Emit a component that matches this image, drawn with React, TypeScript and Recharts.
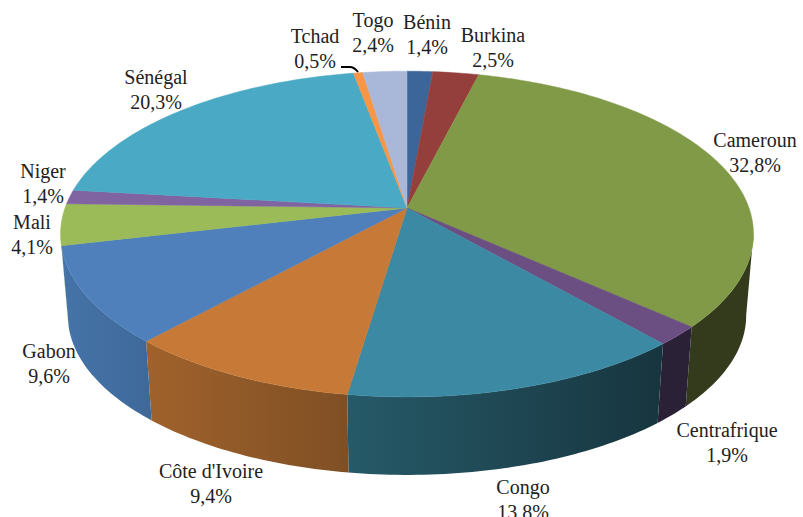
import { PieChart, Pie } from 'recharts'

const names = ['Bénin', 'Burkina', 'Cameroun', 'Centrafrique', 'Congo', "Côte d'Ivoire", 'Gabon', 'Mali', 'Niger', 'Sénégal', 'Tchad', 'Togo']
const values = [1.4, 2.5, 32.8, 1.9, 13.8, 9.4, 9.6, 4.1, 1.4, 20.3, 0.5, 2.4]
const faceColors = ['#3C6699', '#953F3D', '#809A47', '#6B4E82', '#3C89A3', '#C77A37', '#4F80BC', '#9BBB59', '#8064A2', '#4AAAC5', '#F79646', '#A9B8D8']
const wallFrom = ['#3C6699', '#953F3D', '#343B1D', '#2B2136', '#265A68', '#A0622C', '#4674A8', '#9BBB59', '#8064A2', '#4AAAC5', '#F79646', '#A9B8D8']
const wallTo = ['#3C6699', '#953F3D', '#343B1D', '#2B2136', '#17353F', '#7F4F24', '#3E689A', '#9BBB59', '#8064A2', '#4AAAC5', '#F79646', '#A9B8D8']

// where each label sits: centre x, first baseline y
const labelSpots = [[427, 29], [493, 42], [755, 147], [727, 437], [523, 494], [211, 478], [49, 358], [32, 229], [43, 178], [156, 84], [315, 43], [373, 27]]

const chartData = names.map((name, i) => ({ name, value: values[i], fill: faceColors[i], wallFrom: wallFrom[i], wallTo: wallTo[i] }))

// fake 3D: the disc is seen from above with a bit of perspective
const TILT = 0.464
const PERSPECTIVE = 0.16
const BOTTOM_SCALE = 0.979
const DEPTH = 82
const WALL_START = 99
const WALL_END = 258

// theta is clockwise from 12 o'clock
function project(cx: number, cy: number, r: number, theta: number, bottom = false) {
  const rad = (theta * Math.PI) / 180
  const u = Math.sin(rad)
  const v = -Math.cos(rad)
  const w = 1 - PERSPECTIVE * v
  const k = bottom ? BOTTOM_SCALE : 1
  return [cx + (k * r * u) / w, cy + (bottom ? DEPTH : 0) + (k * r * TILT * v) / w]
}

function arcPoints(cx: number, cy: number, r: number, from: number, to: number, bottom = false) {
  const steps = Math.max(2, Math.ceil(Math.abs(to - from)))
  const pts = []
  for (let i = 0; i <= steps; i++) {
    pts.push(project(cx, cy, r, from + ((to - from) * i) / steps, bottom))
  }
  return pts
}

const toPath = (pts: number[][]) => pts.map((p, i) => `${i ? 'L' : 'M'}${p[0].toFixed(2)},${p[1].toFixed(2)}`).join(' ') + ' Z'

function Slice(props: any) {
  const { cx, cy, outerRadius, startAngle, endAngle, fill, name } = props
  const from = 90 - startAngle
  const to = 90 - endAngle
  const a = Math.max(from, WALL_START)
  const b = Math.min(to, WALL_END)
  const id = 'wall-' + names.indexOf(name)
  return (
    <g>
      {b > a && (
        <>
          <defs>
            <linearGradient id={id} x1="0" x2="1" y1="0" y2="0">
              <stop offset="0%" stopColor={props.wallFrom} />
              <stop offset="100%" stopColor={props.wallTo} />
            </linearGradient>
          </defs>
          <path
            d={toPath([...arcPoints(cx, cy, outerRadius, a, b), ...arcPoints(cx, cy, outerRadius, b, a, true)])}
            fill={`url(#${id})`}
          />
        </>
      )}
      <path
        d={toPath([[cx, cy], ...arcPoints(cx, cy, outerRadius, from, to)])}
        fill={fill}
        stroke={fill}
        strokeWidth={0.5}
      />
    </g>
  )
}

function renderLabel(props: any) {
  const spot = labelSpots[props.index]
  const text = props.value.toFixed(1).replace('.', ',') + '%'
  return (
    <text x={spot[0]} y={spot[1]} textAnchor="middle" fontFamily="'Liberation Serif', serif" fontSize={20} fill="#222">
      <tspan x={spot[0]}>{props.name}</tspan>
      <tspan x={spot[0]} dy={24.5}>{text}</tspan>
    </text>
  )
}

function renderLine(props: any) {
  if (names[props.index] !== 'Tchad') return <g />
  return <path d="M341,67 L350,67 Q354,67 358,72" fill="none" stroke="#000" strokeWidth={2} />
}

export default function App() {
  return (
    <div style={{ position: 'absolute', left: 0, top: 0, width: 803, height: 517, background: '#fff' }}>
      <PieChart width={803} height={517} margin={{ top: 0, right: 0, bottom: 0, left: 0 }}>
        <Pie
          data={chartData}
          dataKey="value"
          nameKey="name"
          cx={407}
          cy={208}
          innerRadius={0}
          outerRadius={342}
          startAngle={90}
          endAngle={-270}
          stroke="none"
          shape={Slice}
          label={renderLabel}
          labelLine={renderLine}
          isAnimationActive={false}
        />
      </PieChart>
    </div>
  )
}
